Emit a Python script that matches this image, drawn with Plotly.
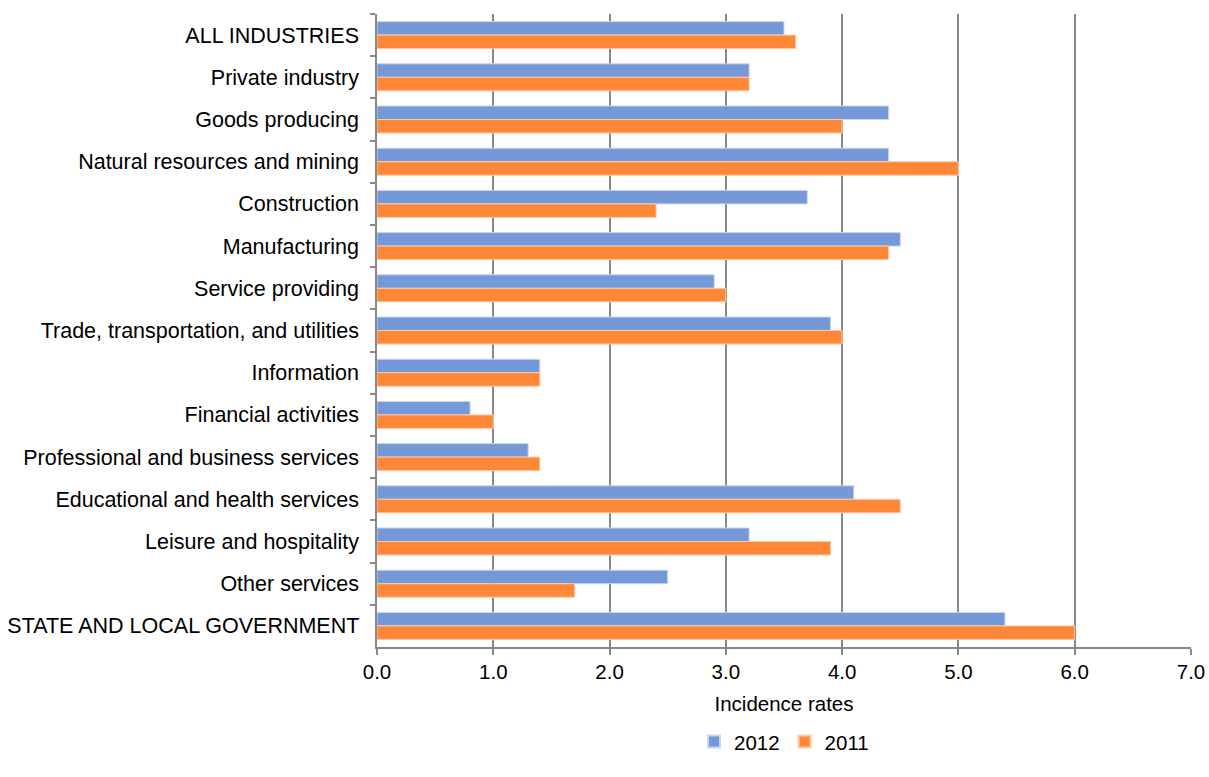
import plotly.graph_objects as go

categories = [
    "ALL INDUSTRIES", "Private industry", "Goods producing",
    "Natural resources and mining", "Construction", "Manufacturing",
    "Service providing", "Trade, transportation, and utilities",
    "Information", "Financial activities", "Professional and business services",
    "Educational and health services", "Leisure and hospitality",
    "Other services", "STATE AND LOCAL GOVERNMENT",
]
values_2012 = [3.5, 3.2, 4.4, 4.4, 3.7, 4.5, 2.9, 3.9, 1.4, 0.8, 1.3, 4.1, 3.2, 2.5, 5.4]
values_2011 = [3.6, 3.2, 4.0, 5.0, 2.4, 4.4, 3.0, 4.0, 1.4, 1.0, 1.4, 4.5, 3.9, 1.7, 6.0]
x_ticks = [0, 1, 2, 3, 4, 5, 6, 7]

FS = 20.5

fig = go.Figure()
fig.add_trace(go.Bar(y=categories, x=values_2012, name="2012", orientation="h",
                     marker=dict(color="#7599d8", line=dict(color="#c9d6f0", width=1))))
fig.add_trace(go.Bar(y=categories, x=values_2011, name="2011", orientation="h",
                     marker=dict(color="#ff8838", line=dict(color="#ffc9a4", width=1))))

fig.update_layout(
    width=1209, height=777,
    margin=dict(l=377, r=18, t=14, b=130, autoexpand=False),
    paper_bgcolor="white", plot_bgcolor="white",
    font=dict(family="Liberation Sans, Arial, sans-serif", size=FS, color="#000000"),
    barmode="group", bargap=0.36, bargroupgap=0,
    legend=dict(orientation="h", x=0.5, xanchor="center", y=-0.118, yanchor="top",
                font=dict(size=FS), traceorder="normal", itemwidth=30,
                itemsizing="constant", tracegroupgap=0),
    showlegend=True,
)
fig.update_xaxes(
    range=[0, 7], tickvals=x_ticks, tickformat=".1f", automargin=False,
    showgrid=True, gridcolor="#888888", gridwidth=1.5,
    showline=True, linecolor="#888888", linewidth=1.5,
    ticks="outside", ticklen=6, tickcolor="#888888", tickwidth=1.5,
    zeroline=False,
    title=dict(text="Incidence rates", font=dict(size=FS), standoff=14),
)
fig.update_yaxes(
    autorange="reversed", type="category", automargin=False,
    showline=True, linecolor="#888888", linewidth=1.5,
    ticks="outside", ticklen=5, tickcolor="#888888", tickwidth=1.5,
    tickson="boundaries", showgrid=False, ticksuffix="  ",
    tickfont=dict(size=21.5),
)
fig.write_html("out.html")
